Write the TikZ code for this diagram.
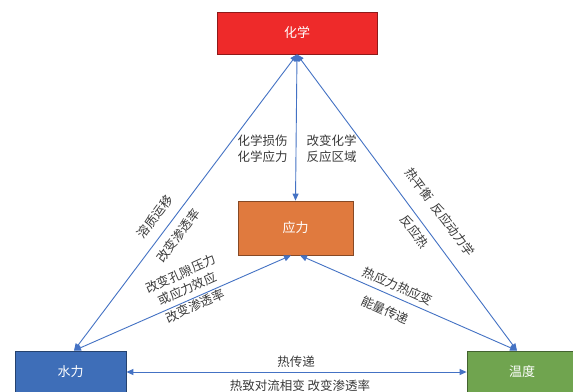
\documentclass[tikz,border=0pt]{standalone}
\usepackage{fontspec}
\setmainfont{Noto Sans CJK SC}
\usetikzlibrary{arrows.meta}
\definecolor{lblue}{HTML}{4472C4}
\definecolor{cred}{HTML}{EE2A2A}
\definecolor{cyellow}{HTML}{E07A3E}
\definecolor{cblue}{HTML}{3E6EB8}
\definecolor{cgreen}{HTML}{70A44F}
\definecolor{txt}{HTML}{3A3A3A}
\tikzset{
  box/.style={draw=#1!60!black, line width=0.8pt, fill=#1, text=white, inner sep=0pt, font=\fontsize{13}{16}\selectfont},
  conn/.style={draw=lblue, line width=0.9pt, {Triangle[length=7pt,width=6pt]}-{Triangle[length=7pt,width=6pt]}},
  lbl/.style={text=txt, inner sep=0pt, align=center, font=\fontsize{12.5}{16}\selectfont}
}
\begin{document}
\begin{tikzpicture}[x=1pt,y=-1pt]
\useasboundingbox (0,0) rectangle (573,391);
\clip (0,0) rectangle (573,391);
\fill[white] (0,0) rectangle (573,391);
\node[box=cred, minimum width=160pt, minimum height=42pt] (hua) at (297,33) {化学};
\node[box=cyellow, minimum width=115pt, minimum height=54pt] (ying) at (295.5,228) {应力};
\node[box=cblue, minimum width=111pt, minimum height=42pt] (shui) at (70.5,372) {水力};
\node[box=cgreen, minimum width=110pt, minimum height=42pt] (wen) at (522,372) {温度};

\coordinate (shuiT) at ([xshift=3.5pt]shui.north);
\coordinate (wenT) at ([xshift=-5pt]wen.north);
\coordinate (yingL) at ([xshift=-4.5pt]ying.south);
\coordinate (yingR) at ([xshift=4.5pt]ying.south);

\draw[conn] (shuiT) -- (hua.south);
\draw[conn] (wenT) -- (hua.south);
\draw[conn] (hua.south) -- (ying.north);
\draw[conn] (shuiT) -- (yingL);
\draw[conn] (wenT) -- (yingR);
\draw[conn] (shui.east) -- (wen.west);

\node[lbl] (l1) at (262.5,149) {化学损伤\\化学应力};
\node[lbl] (l2) at (331.5,149) {改变化学\\反应区域};
\node[lbl, rotate=53] (l3) at (155,217) {溶质运移};
\node[lbl, rotate=53] (l4) at (178,236) {改变渗透率};
\node[lbl, rotate=24] (l5) at (184,281) {改变孔隙压力\\或应力效应};
\node[lbl, rotate=24] (l6) at (195,306) {改变渗透率};
\node[lbl, rotate=-53] (l7) at (440,212) {热平衡\hspace{7pt}反应动力学};
\node[lbl, rotate=-53] (l8) at (415,232) {反应热};
\node[lbl, rotate=-24] (l9) at (398,286) {热应力热应变};
\node[lbl, rotate=-24] (l10) at (385,310) {能量传递};
\node[lbl] (l11) at (296,362) {热传递};
\node[lbl] (l12) at (300,386) {热致对流相变\ 改变渗透率};
\end{tikzpicture}
\end{document}
